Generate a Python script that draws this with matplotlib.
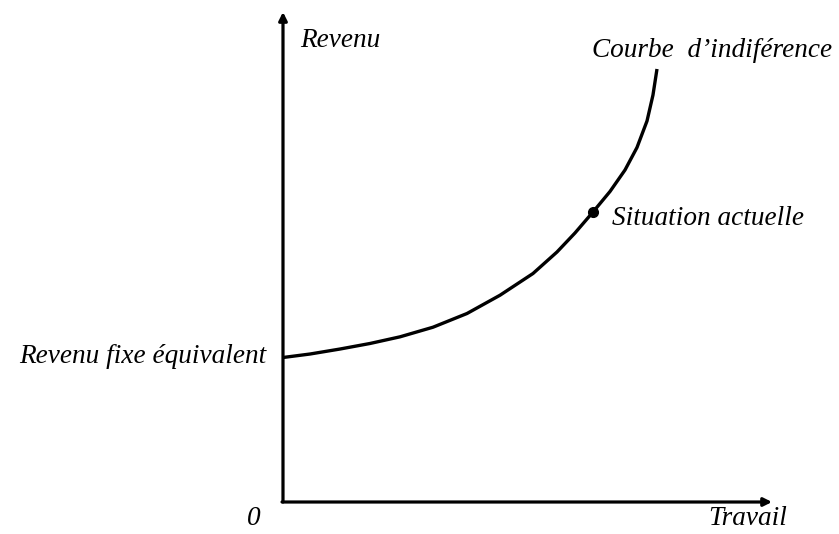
import matplotlib
matplotlib.use("Agg")
import matplotlib.pyplot as plt

# Indifference curve (Travail -> Revenu)
travail = [0.000, 0.552, 1.166, 1.779, 2.393, 3.067, 3.763, 4.438, 5.112,
           5.603, 5.971, 6.339, 6.687, 6.994, 7.239, 7.444, 7.566, 7.648]
revenu = [2.949, 3.020, 3.122, 3.235, 3.371, 3.567, 3.847, 4.220, 4.663,
          5.102, 5.490, 5.918, 6.337, 6.776, 7.235, 7.776, 8.306, 8.837]
situation_x = [6.339]
situation_y = [5.918]

plt.rcParams['font.family'] = ['Liberation Serif', 'DejaVu Serif']

fig = plt.figure(figsize=(8.39, 5.34), dpi=100)
ax = fig.add_axes([0, 0, 1, 1])
ax.set_xlim(-5.787, 11.37)
ax.set_ylim(-0.653, 10.245)
ax.axis('off')

arrow = dict(arrowstyle='-|>', lw=2.3, color='black', mutation_scale=12,
             shrinkA=0, shrinkB=0)
ax.annotate('', xy=(0, 10.0), xytext=(0, 0), arrowprops=arrow)
ax.annotate('', xy=(10.0, 0), xytext=(-0.02, 0), arrowprops=arrow)

ax.plot(travail, revenu, color='black', lw=2.4, solid_joinstyle='round',
        solid_capstyle='butt')
ax.plot(situation_x, situation_y, 'o', color='black', markersize=7)

fs = 19.6
style = dict(fontsize=fs, style='italic', color='black')
ax.text(0.35, 9.29, 'Revenu', ha='left', va='baseline', **style)
ax.text(6.31, 9.09, 'Courbe  d\u2019indif\u00e9rence', ha='left', va='baseline', **style)
ax.text(6.72, 5.65, 'Situation actuelle', ha='left', va='baseline', **style)
ax.text(-0.33, 2.83, 'Revenu fixe \u00e9quivalent', ha='right', va='baseline', **style)
ax.text(-0.59, -0.47, '0', ha='center', va='baseline', **style)
ax.text(8.70, -0.47, 'Travail', ha='left', va='baseline', **style)

fig.savefig('out.png', dpi=100)
